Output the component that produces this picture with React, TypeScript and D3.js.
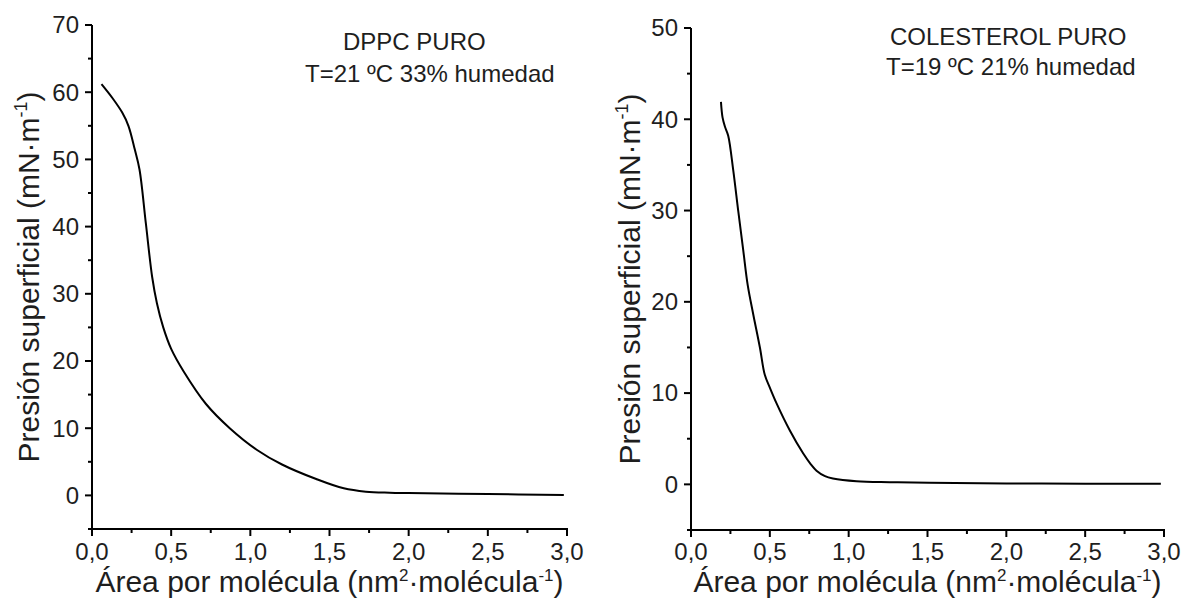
import React from 'react';
import * as d3 from 'd3';

// DPPC puro
const dppcArea = [0.06, 0.13, 0.19, 0.23, 0.27, 0.3, 0.34, 0.38, 0.41, 0.45, 0.5, 0.58, 0.72, 0.87, 1.04, 1.2, 1.42, 1.59, 1.73, 1.88, 2.0, 2.5, 2.98];
const dppcPressure = [61.2, 59.1, 57.0, 55.0, 51.5, 48.5, 40.5, 32.5, 28.6, 25.0, 21.8, 18.4, 13.6, 10.0, 6.8, 4.6, 2.4, 1.05, 0.55, 0.4, 0.35, 0.2, 0.05];

// Colesterol puro
const cholArea = [0.19, 0.2, 0.215, 0.236, 0.268, 0.3, 0.331, 0.36, 0.394, 0.437, 0.468, 0.5, 0.542, 0.627, 0.711, 0.76, 0.796, 0.85, 0.9, 1.05, 1.26, 1.51, 2.0, 2.5, 2.98];
const cholPressure = [41.9, 40.2, 39.2, 38.2, 34.4, 29.9, 25.7, 21.8, 18.7, 15.0, 12.0, 10.6, 8.9, 5.9, 3.4, 2.2, 1.5, 0.9, 0.65, 0.35, 0.24, 0.17, 0.1, 0.08, 0.08];

const xTicks = [0, 0.5, 1.0, 1.5, 2.0, 2.5, 3.0];
const xMinorTicks = [0.25, 0.75, 1.25, 1.75, 2.25, 2.75];
const leftYTicks = [0, 10, 20, 30, 40, 50, 60, 70];
const leftYMinor = [-5, 5, 15, 25, 35, 45, 55, 65];
const rightYTicks = [0, 10, 20, 30, 40, 50];
const rightYMinor = [-5, 5, 15, 25, 35, 45];

const leftNotes = ['DPPC PURO', 'T=21 ºC 33% humedad'];
const rightNotes = ['COLESTEROL PURO', 'T=19 ºC 21% humedad'];

const FONT = '"Liberation Sans", Arial, Helvetica, sans-serif';
const fmt = (v: number) => d3.format('.1f')(v).replace('.', ',');

type PanelProps = {
  xRange: [number, number];
  yRange: [number, number];
  yDomain: [number, number];
  area: number[];
  pressure: number[];
  yTicks: number[];
  yMinor: number[];
  yTitleX: number;
  notes: string[];
  notePos: { x: number; y: number }[];
};

function Panel(p: PanelProps) {
  const x = d3.scaleLinear().domain([0, 3]).range(p.xRange);
  const y = d3.scaleLinear().domain(p.yDomain).range(p.yRange);
  const pts: [number, number][] = p.area.map((a, i) => [a, p.pressure[i]]);
  const line = d3
    .line<[number, number]>()
    .x((d) => x(d[0]))
    .y((d) => y(d[1]))
    .curve(d3.curveCatmullRom.alpha(0.5));
  const x0 = p.xRange[0];
  const yb = p.yRange[0];
  const yCenter = (p.yRange[0] + p.yRange[1]) / 2;
  const xCenter = (p.xRange[0] + p.xRange[1]) / 2;
  return (
    <g>
      <path d={line(pts) || ''} fill="none" stroke="#000" strokeWidth={2} strokeLinejoin="round" />
      {/* axes */}
      <line x1={x0} x2={x0} y1={p.yRange[1]} y2={yb + 1} stroke="#000" strokeWidth={2} />
      <line x1={x0 - 1} x2={p.xRange[1] + 1} y1={yb} y2={yb} stroke="#000" strokeWidth={2} />
      {p.yTicks.map((t) => (
        <g key={'yt' + t}>
          <line x1={x0 - 7} x2={x0} y1={y(t)} y2={y(t)} stroke="#000" strokeWidth={2} />
          <text x={x0 - 13} y={y(t)} dy="0.35em" textAnchor="end" fontSize={24} fill="#1e1e1e" fontFamily={FONT}>
            {t}
          </text>
        </g>
      ))}
      {p.yMinor.map((t) => (
        <line key={'ym' + t} x1={x0 - 4} x2={x0} y1={y(t)} y2={y(t)} stroke="#000" strokeWidth={2} />
      ))}
      {xTicks.map((t) => (
        <g key={'xt' + t}>
          <line x1={x(t)} x2={x(t)} y1={yb} y2={yb + 7} stroke="#000" strokeWidth={2} />
          <text x={x(t)} y={560} textAnchor="middle" fontSize={24} fill="#1e1e1e" fontFamily={FONT}>
            {fmt(t)}
          </text>
        </g>
      ))}
      {xMinorTicks.map((t) => (
        <line key={'xm' + t} x1={x(t)} x2={x(t)} y1={yb} y2={yb + 4} stroke="#000" strokeWidth={2} />
      ))}
      {/* y title */}
      <text
        transform={`translate(${p.yTitleX},${yCenter}) rotate(-90)`}
        textAnchor="middle"
        fontSize={30}
        fill="#1e1e1e"
        fontFamily={FONT}
      >
        Presión superficial (mN·m
        <tspan fontSize={18} dy={-12}>-1</tspan>
        <tspan dy={12}>)</tspan>
      </text>
      {/* x title */}
      <text x={xCenter} y={592} textAnchor="middle" fontSize={30} fill="#1e1e1e" fontFamily={FONT}>
        Área por molécula (nm
        <tspan fontSize={17} dy={-11}>2</tspan>
        <tspan dy={11}>·molécula</tspan>
        <tspan fontSize={17} dy={-11}>-1</tspan>
        <tspan dy={11}>)</tspan>
      </text>
      {p.notes.map((n, i) => (
        <text key={n} x={p.notePos[i].x} y={p.notePos[i].y} fontSize={24} fill="#1e1e1e" fontFamily={FONT}>
          {n}
        </text>
      ))}
    </g>
  );
}

export default function App() {
  return (
    <div style={{ position: 'absolute', left: 0, top: 0 }}>
      <svg width={1182} height={598} style={{ display: 'block', background: '#fff' }}>
        <rect width={1182} height={598} fill="#fff" />
        <Panel
          xRange={[92, 567]}
          yRange={[529, 25]}
          yDomain={[-5, 70]}
          area={dppcArea}
          pressure={dppcPressure}
          yTicks={leftYTicks}
          yMinor={leftYMinor}
          yTitleX={39}
          notes={leftNotes}
          notePos={[
            { x: 343, y: 50 },
            { x: 305, y: 82 },
          ]}
        />
        <Panel
          xRange={[691, 1164]}
          yRange={[530, 28]}
          yDomain={[-5, 50]}
          area={cholArea}
          pressure={cholPressure}
          yTicks={rightYTicks}
          yMinor={rightYMinor}
          yTitleX={640}
          notes={rightNotes}
          notePos={[
            { x: 890, y: 45 },
            { x: 886, y: 75 },
          ]}
        />
      </svg>
    </div>
  );
}
